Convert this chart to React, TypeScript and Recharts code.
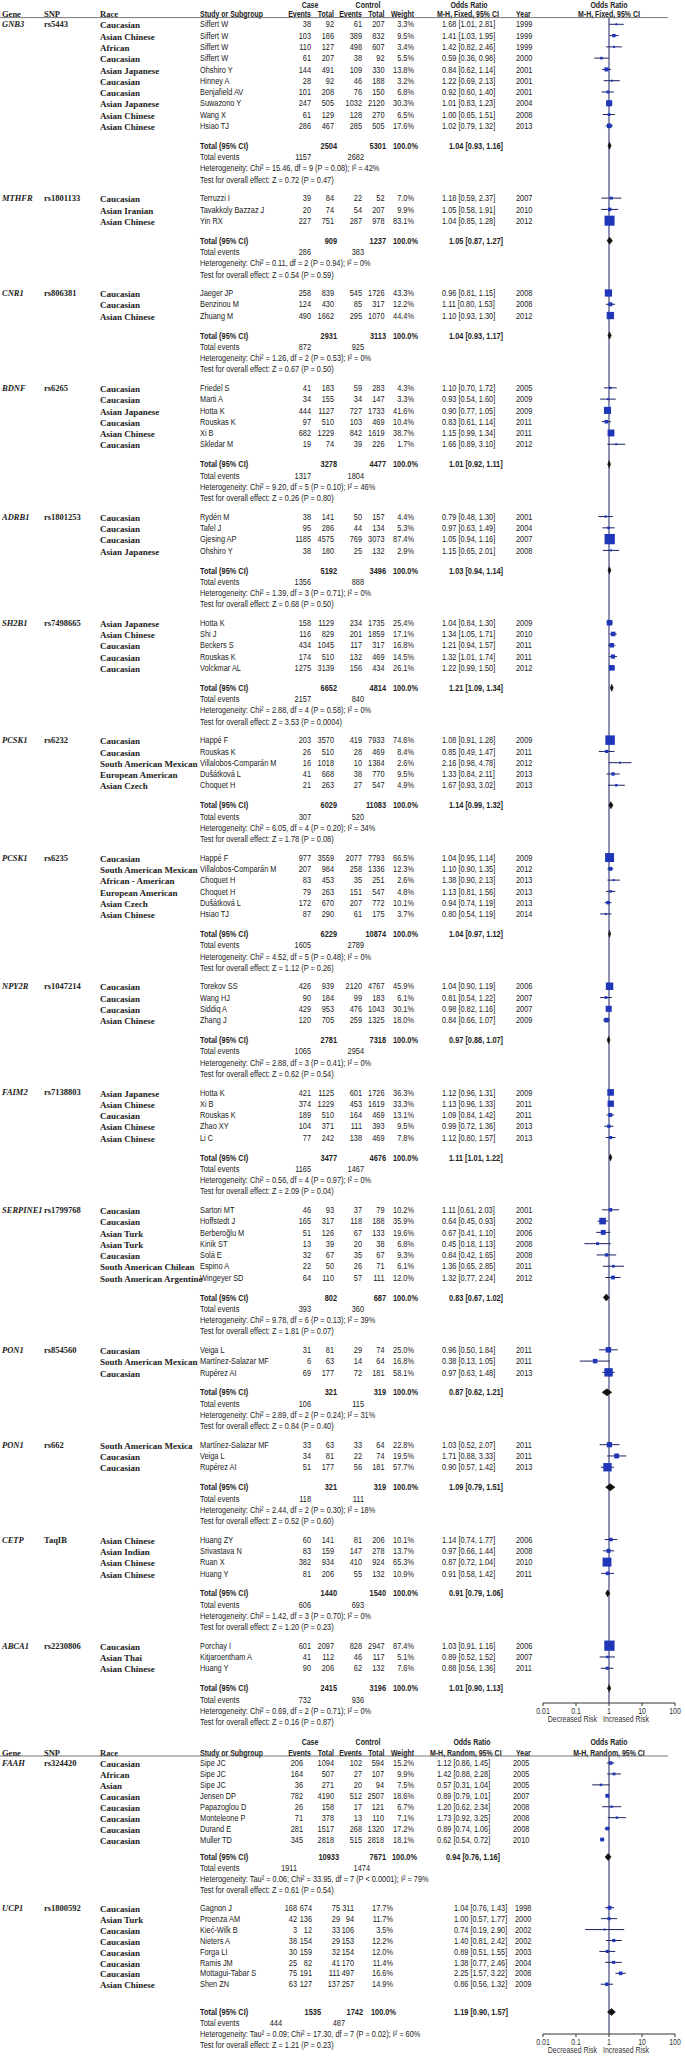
import React from "react";
import { ComposedChart, Scatter, XAxis, YAxis, ReferenceLine, ErrorBar } from "recharts";

const SANS = "'Liberation Sans', Arial, sans-serif";
const SERIF = "'Liberation Serif', 'Times New Roman', serif";
const NARROW = 0.82; // Arial Narrow look from Liberation Sans
const INK = "#222";
const NAVY = "#1b2163";
const BLUE = "#1f36b8";

// race, study, case events, case total, control events, control total, weight %, OR, CI low, CI high, year
type Study = [string, string, number, number, number, number, number, number, number, number, number];
// case total, control total, OR, CI low, CI high, case events, control events
type Total = [number, number, number, number, number, number, number];

const gnb3Studies: Study[] = [
  ["Caucasian", "Siffert W", 38, 92, 61, 207, 3.3, 1.68, 1.01, 2.81, 1999],
  ["Asian Chinese", "Siffert W", 103, 186, 389, 832, 9.5, 1.41, 1.03, 1.95, 1999],
  ["African", "Siffert W", 110, 127, 498, 607, 3.4, 1.42, 0.82, 2.46, 1999],
  ["Caucasian", "Siffert W", 61, 207, 38, 92, 5.5, 0.59, 0.36, 0.98, 2000],
  ["Asian Japanese", "Ohshiro Y", 144, 491, 109, 330, 13.8, 0.84, 0.62, 1.14, 2001],
  ["Caucasian", "Hinney A", 28, 92, 46, 188, 3.2, 1.22, 0.69, 2.13, 2001],
  ["Caucasian", "Benjafield AV", 101, 208, 76, 150, 6.8, 0.92, 0.6, 1.4, 2001],
  ["Asian Japanese", "Suwazono Y", 247, 505, 1032, 2120, 30.3, 1.01, 0.83, 1.23, 2004],
  ["Asian Chinese", "Wang X", 61, 129, 128, 270, 6.5, 1.0, 0.65, 1.51, 2008],
  ["Asian Chinese", "Hsiao TJ", 286, 467, 285, 505, 17.6, 1.02, 0.79, 1.32, 2013],
];
const gnb3Total: Total = [2504, 5301, 1.04, 0.93, 1.16, 1157, 2682];
const gnb3Stats = ["Heterogeneity: Chi² = 15.46, df = 9 (P = 0.08); I² = 42%", "Test for overall effect: Z = 0.72 (P = 0.47)"];

const mthfrStudies: Study[] = [
  ["Caucasian", "Terruzzi I", 39, 84, 22, 52, 7.0, 1.18, 0.59, 2.37, 2007],
  ["Asian Iranian", "Tavakkoly Bazzaz J", 20, 74, 54, 207, 9.9, 1.05, 0.58, 1.91, 2010],
  ["Asian Chinese", "Yin RX", 227, 751, 287, 978, 83.1, 1.04, 0.85, 1.28, 2012],
];
const mthfrTotal: Total = [909, 1237, 1.05, 0.87, 1.27, 286, 383];
const mthfrStats = ["Heterogeneity: Chi² = 0.11, df = 2 (P = 0.94); I² = 0%", "Test for overall effect: Z = 0.54 (P = 0.59)"];

const cnr1Studies: Study[] = [
  ["Caucasian", "Jaeger JP", 258, 839, 545, 1726, 43.3, 0.96, 0.81, 1.15, 2008],
  ["Caucasian", "Benzinou M", 124, 430, 85, 317, 12.2, 1.11, 0.8, 1.53, 2008],
  ["Asian Chinese", "Zhuang M", 490, 1662, 295, 1070, 44.4, 1.1, 0.93, 1.3, 2012],
];
const cnr1Total: Total = [2931, 3113, 1.04, 0.93, 1.17, 872, 925];
const cnr1Stats = ["Heterogeneity: Chi² = 1.26, df = 2 (P = 0.53); I² = 0%", "Test for overall effect: Z = 0.67 (P = 0.50)"];

const bdnfStudies: Study[] = [
  ["Caucasian", "Friedel S", 41, 183, 59, 283, 4.3, 1.1, 0.7, 1.72, 2005],
  ["Caucasian", "Marti A", 34, 155, 34, 147, 3.3, 0.93, 0.54, 1.6, 2009],
  ["Asian Japanese", "Hotta K", 444, 1127, 727, 1733, 41.6, 0.9, 0.77, 1.05, 2009],
  ["Caucasian", "Rouskas K", 97, 510, 103, 469, 10.4, 0.83, 0.61, 1.14, 2011],
  ["Asian Chinese", "Xi B", 682, 1229, 842, 1619, 38.7, 1.15, 0.99, 1.34, 2011],
  ["Caucasian", "Skledar M", 19, 74, 39, 226, 1.7, 1.66, 0.89, 3.1, 2012],
];
const bdnfTotal: Total = [3278, 4477, 1.01, 0.92, 1.11, 1317, 1804];
const bdnfStats = ["Heterogeneity: Chi² = 9.20, df = 5 (P = 0.10); I² = 46%", "Test for overall effect: Z = 0.26 (P = 0.80)"];

const adrb1Studies: Study[] = [
  ["Caucasian", "Rydén M", 38, 141, 50, 157, 4.4, 0.79, 0.48, 1.3, 2001],
  ["Caucasian", "Tafel J", 95, 286, 44, 134, 5.3, 0.97, 0.63, 1.49, 2004],
  ["Caucasian", "Gjesing AP", 1185, 4575, 769, 3073, 87.4, 1.05, 0.94, 1.16, 2007],
  ["Asian Japanese", "Ohshiro Y", 38, 180, 25, 132, 2.9, 1.15, 0.65, 2.01, 2008],
];
const adrb1Total: Total = [5192, 3496, 1.03, 0.94, 1.14, 1356, 888];
const adrb1Stats = ["Heterogeneity: Chi² = 1.39, df = 3 (P = 0.71); I² = 0%", "Test for overall effect: Z = 0.68 (P = 0.50)"];

const sh2b1Studies: Study[] = [
  ["Asian Japanese", "Hotta K", 158, 1129, 234, 1735, 25.4, 1.04, 0.84, 1.3, 2009],
  ["Asian Chinese", "Shi J", 116, 829, 201, 1859, 17.1, 1.34, 1.05, 1.71, 2010],
  ["Caucasian", "Beckers S", 434, 1045, 117, 317, 16.8, 1.21, 0.94, 1.57, 2011],
  ["Caucasian", "Rouskas K", 174, 510, 132, 469, 14.5, 1.32, 1.01, 1.74, 2011],
  ["Caucasian", "Volckmar AL", 1275, 3139, 156, 434, 26.1, 1.22, 0.99, 1.5, 2012],
];
const sh2b1Total: Total = [6652, 4814, 1.21, 1.09, 1.34, 2157, 840];
const sh2b1Stats = ["Heterogeneity: Chi² = 2.88, df = 4 (P = 0.58); I² = 0%", "Test for overall effect: Z = 3.53 (P = 0.0004)"];

const pcsk1aStudies: Study[] = [
  ["Caucasian", "Happé F", 203, 3570, 419, 7933, 74.6, 1.08, 0.91, 1.28, 2009],
  ["Caucasian", "Rouskas K", 26, 510, 28, 469, 8.4, 0.85, 0.49, 1.47, 2011],
  ["South American Mexican", "Villalobos-Comparán M", 16, 1018, 10, 1384, 2.6, 2.16, 0.98, 4.78, 2012],
  ["European American", "Dušátková L", 41, 668, 38, 770, 9.5, 1.33, 0.84, 2.11, 2013],
  ["Asian Czech", "Choquet H", 21, 263, 27, 547, 4.9, 1.67, 0.93, 3.02, 2013],
];
const pcsk1aTotal: Total = [6029, 11083, 1.14, 0.99, 1.32, 307, 520];
const pcsk1aStats = ["Heterogeneity: Chi² = 6.05, df = 4 (P = 0.20); I² = 34%", "Test for overall effect: Z = 1.78 (P = 0.08)"];

const pcsk1bStudies: Study[] = [
  ["Caucasian", "Happé F", 977, 3559, 2077, 7793, 66.5, 1.04, 0.95, 1.14, 2009],
  ["South American Mexican", "Villalobos-Comparán M", 207, 984, 258, 1336, 12.3, 1.1, 0.9, 1.35, 2012],
  ["African - American", "Choquet H", 83, 453, 35, 251, 2.6, 1.38, 0.9, 2.13, 2013],
  ["European American", "Choquet H", 79, 263, 151, 547, 4.8, 1.13, 0.81, 1.56, 2013],
  ["Asian Czech", "Dušátková L", 172, 670, 207, 772, 10.1, 0.94, 0.74, 1.19, 2013],
  ["Asian Chinese", "Hsiao TJ", 87, 290, 61, 175, 3.7, 0.8, 0.54, 1.19, 2014],
];
const pcsk1bTotal: Total = [6229, 10874, 1.04, 0.97, 1.12, 1605, 2789];
const pcsk1bStats = ["Heterogeneity: Chi² = 4.52, df = 5 (P = 0.48); I² = 0%", "Test for overall effect: Z = 1.12 (P = 0.26)"];

const npy2rStudies: Study[] = [
  ["Caucasian", "Torekov SS", 426, 939, 2120, 4767, 45.9, 1.04, 0.9, 1.19, 2006],
  ["Caucasian", "Wang HJ", 90, 184, 99, 183, 6.1, 0.81, 0.54, 1.22, 2007],
  ["Caucasian", "Siddiq A", 429, 953, 476, 1043, 30.1, 0.98, 0.82, 1.16, 2007],
  ["Asian Chinese", "Zhang J", 120, 705, 259, 1325, 18.0, 0.84, 0.66, 1.07, 2009],
];
const npy2rTotal: Total = [2781, 7318, 0.97, 0.88, 1.07, 1065, 2954];
const npy2rStats = ["Heterogeneity: Chi² = 2.88, df = 3 (P = 0.41); I² = 0%", "Test for overall effect: Z = 0.62 (P = 0.54)"];

const faim2Studies: Study[] = [
  ["Asian Japanese", "Hotta K", 421, 1125, 601, 1726, 36.3, 1.12, 0.96, 1.31, 2009],
  ["Asian Chinese", "Xi B", 374, 1229, 453, 1619, 33.3, 1.13, 0.96, 1.33, 2011],
  ["Caucasian", "Rouskas K", 189, 510, 164, 469, 13.1, 1.09, 0.84, 1.42, 2011],
  ["Asian Chinese", "Zhao XY", 104, 371, 111, 393, 9.5, 0.99, 0.72, 1.36, 2013],
  ["Asian Chinese", "Li C", 77, 242, 138, 469, 7.8, 1.12, 0.8, 1.57, 2013],
];
const faim2Total: Total = [3477, 4676, 1.11, 1.01, 1.22, 1165, 1467];
const faim2Stats = ["Heterogeneity: Chi² = 0.56, df = 4 (P = 0.97); I² = 0%", "Test for overall effect: Z = 2.09 (P = 0.04)"];

const serpine1Studies: Study[] = [
  ["Caucasian", "Sartori MT", 46, 93, 37, 79, 10.2, 1.11, 0.61, 2.03, 2001],
  ["Caucasian", "Hoffstedt J", 165, 317, 118, 188, 35.9, 0.64, 0.45, 0.93, 2002],
  ["Asian Turk", "Berberoğlu M", 51, 126, 67, 133, 19.6, 0.67, 0.41, 1.1, 2006],
  ["Asian Turk", "Kinik ST", 13, 39, 20, 38, 6.8, 0.45, 0.18, 1.13, 2008],
  ["Caucasian", "Solá E", 32, 67, 35, 67, 9.3, 0.84, 0.42, 1.65, 2008],
  ["South American Chilean", "Espino A", 22, 50, 26, 71, 6.1, 1.36, 0.65, 2.85, 2011],
  ["South American Argentine", "Wingeyer SD", 64, 110, 57, 111, 12.0, 1.32, 0.77, 2.24, 2012],
];
const serpine1Total: Total = [802, 687, 0.83, 0.67, 1.02, 393, 360];
const serpine1Stats = ["Heterogeneity: Chi² = 9.78, df = 6 (P = 0.13); I² = 39%", "Test for overall effect: Z = 1.81 (P = 0.07)"];

const pon1aStudies: Study[] = [
  ["Caucasian", "Veiga L", 31, 81, 29, 74, 25.0, 0.96, 0.5, 1.84, 2011],
  ["South American Mexican", "Martínez-Salazar MF", 6, 63, 14, 64, 16.8, 0.38, 0.13, 1.05, 2011],
  ["Caucasian", "Rupérez AI", 69, 177, 72, 181, 58.1, 0.97, 0.63, 1.48, 2013],
];
const pon1aTotal: Total = [321, 319, 0.87, 0.62, 1.21, 106, 115];
const pon1aStats = ["Heterogeneity: Chi² = 2.89, df = 2 (P = 0.24); I² = 31%", "Test for overall effect: Z = 0.84 (P = 0.40)"];

const pon1bStudies: Study[] = [
  ["South American Mexica", "Martínez-Salazar MF", 33, 63, 33, 64, 22.8, 1.03, 0.52, 2.07, 2011],
  ["Caucasian", "Veiga L", 34, 81, 22, 74, 19.5, 1.71, 0.88, 3.33, 2011],
  ["Caucasian", "Rupérez AI", 51, 177, 56, 181, 57.7, 0.9, 0.57, 1.42, 2013],
];
const pon1bTotal: Total = [321, 319, 1.09, 0.79, 1.51, 118, 111];
const pon1bStats = ["Heterogeneity: Chi² = 2.44, df = 2 (P = 0.30); I² = 18%", "Test for overall effect: Z = 0.52 (P = 0.60)"];

const cetpStudies: Study[] = [
  ["Asian Chinese", "Huang ZY", 60, 141, 81, 206, 10.1, 1.14, 0.74, 1.77, 2006],
  ["Asian Indian", "Srivastava N", 83, 159, 147, 278, 13.7, 0.97, 0.66, 1.44, 2008],
  ["Asian Chinese", "Ruan X", 382, 934, 410, 924, 65.3, 0.87, 0.72, 1.04, 2010],
  ["Asian Chinese", "Huang Y", 81, 206, 55, 132, 10.9, 0.91, 0.58, 1.42, 2011],
];
const cetpTotal: Total = [1440, 1540, 0.91, 0.79, 1.06, 606, 693];
const cetpStats = ["Heterogeneity: Chi² = 1.42, df = 3 (P = 0.70); I² = 0%", "Test for overall effect: Z = 1.20 (P = 0.23)"];

const abca1Studies: Study[] = [
  ["Caucasian", "Porchay I", 601, 2097, 828, 2947, 87.4, 1.03, 0.91, 1.16, 2006],
  ["Asian Thai", "Kitjaroentham A", 41, 112, 46, 117, 5.1, 0.89, 0.52, 1.52, 2007],
  ["Asian Chinese", "Huang Y", 90, 206, 62, 132, 7.6, 0.88, 0.56, 1.36, 2011],
];
const abca1Total: Total = [2415, 3196, 1.01, 0.9, 1.13, 732, 936];
const abca1Stats = ["Heterogeneity: Chi² = 0.69, df = 2 (P = 0.71); I² = 0%", "Test for overall effect: Z = 0.16 (P = 0.87)"];

const faahStudies: Study[] = [
  ["Caucasian", "Sipe JC", 206, 1094, 102, 594, 15.2, 1.12, 0.86, 1.45, 2005],
  ["African", "Sipe JC", 164, 507, 27, 107, 9.9, 1.42, 0.88, 2.28, 2005],
  ["Asian", "Sipe JC", 36, 271, 20, 94, 7.5, 0.57, 0.31, 1.04, 2005],
  ["Caucasian", "Jensen DP", 782, 4190, 512, 2507, 18.6, 0.89, 0.79, 1.01, 2007],
  ["Caucasian", "Papazoglou D", 26, 158, 17, 121, 6.7, 1.2, 0.62, 2.34, 2008],
  ["Caucasian", "Monteleone P", 71, 378, 13, 110, 7.1, 1.73, 0.92, 3.25, 2008],
  ["Caucasian", "Durand E", 281, 1517, 268, 1320, 17.2, 0.89, 0.74, 1.06, 2008],
  ["Caucasian", "Muller TD", 345, 2818, 515, 2818, 18.1, 0.62, 0.54, 0.72, 2010],
];
const faahTotal: Total = [10933, 7671, 0.94, 0.76, 1.16, 1911, 1474];
const faahStats = ["Heterogeneity: Tau² = 0.06; Chi² = 33.95, df = 7 (P < 0.0001); I² = 79%", "Test for overall effect: Z = 0.61 (P = 0.54)"];

const ucp1Studies: Study[] = [
  ["Caucasian", "Gagnon J", 168, 674, 75, 311, 17.7, 1.04, 0.76, 1.43, 1998],
  ["Asian Turk", "Proenza AM", 42, 136, 29, 94, 11.7, 1.0, 0.57, 1.77, 2000],
  ["Caucasian", "Kieć-Wilk B", 3, 12, 33, 106, 3.5, 0.74, 0.19, 2.9, 2002],
  ["Caucasian", "Nieters A", 38, 154, 29, 153, 12.2, 1.4, 0.81, 2.42, 2002],
  ["Caucasian", "Forga LI", 30, 159, 32, 154, 12.0, 0.89, 0.51, 1.55, 2003],
  ["Caucasian", "Ramis JM", 25, 82, 41, 170, 11.4, 1.38, 0.77, 2.46, 2004],
  ["Caucasian", "Mottagui-Tabar S", 75, 191, 111, 497, 16.6, 2.25, 1.57, 3.22, 2008],
  ["Asian Chinese", "Shen ZN", 63, 127, 137, 257, 14.9, 0.86, 0.56, 1.32, 2009],
];
const ucp1Total: Total = [1535, 1742, 1.19, 0.9, 1.57, 444, 487];
const ucp1Stats = ["Heterogeneity: Tau² = 0.09; Chi² = 17.30, df = 7 (P = 0.02); I² = 60%", "Test for overall effect: Z = 1.21 (P = 0.23)"];

const axisTicks = [0.01, 0.1, 1, 10, 100];

type Group = { gene: string; snp: string; studies: Study[]; total: Total; stats: string[] };

const fixedGroups: Group[] = [
  { gene: "GNB3", snp: "rs5443", studies: gnb3Studies, total: gnb3Total, stats: gnb3Stats },
  { gene: "MTHFR", snp: "rs1801133", studies: mthfrStudies, total: mthfrTotal, stats: mthfrStats },
  { gene: "CNR1", snp: "rs806381", studies: cnr1Studies, total: cnr1Total, stats: cnr1Stats },
  { gene: "BDNF", snp: "rs6265", studies: bdnfStudies, total: bdnfTotal, stats: bdnfStats },
  { gene: "ADRB1", snp: "rs1801253", studies: adrb1Studies, total: adrb1Total, stats: adrb1Stats },
  { gene: "SH2B1", snp: "rs7498665", studies: sh2b1Studies, total: sh2b1Total, stats: sh2b1Stats },
  { gene: "PCSK1", snp: "rs6232", studies: pcsk1aStudies, total: pcsk1aTotal, stats: pcsk1aStats },
  { gene: "PCSK1", snp: "rs6235", studies: pcsk1bStudies, total: pcsk1bTotal, stats: pcsk1bStats },
  { gene: "NPY2R", snp: "rs1047214", studies: npy2rStudies, total: npy2rTotal, stats: npy2rStats },
  { gene: "FAIM2", snp: "rs7138803", studies: faim2Studies, total: faim2Total, stats: faim2Stats },
  { gene: "SERPINE1", snp: "rs1799768", studies: serpine1Studies, total: serpine1Total, stats: serpine1Stats },
  { gene: "PON1", snp: "rs854560", studies: pon1aStudies, total: pon1aTotal, stats: pon1aStats },
  { gene: "PON1", snp: "rs662", studies: pon1bStudies, total: pon1bTotal, stats: pon1bStats },
  { gene: "CETP", snp: "TaqIB", studies: cetpStudies, total: cetpTotal, stats: cetpStats },
  { gene: "ABCA1", snp: "rs2230806", studies: abca1Studies, total: abca1Total, stats: abca1Stats },
];

const randomGroups: Group[] = [
  { gene: "FAAH", snp: "rs324420", studies: faahStudies, total: faahTotal, stats: faahStats },
  { gene: "UCP1", snp: "rs1800592", studies: ucp1Studies, total: ucp1Total, stats: ucp1Stats },
];

// column x positions (px)
const COLS_FIXED = { ev: 311, n: 334, cev: 362, cn: 384.5, w: 414, or: 442, yr: 516, tN: 337, tCn: 386, tW: 418, tOr: 449, eEv: 311, eCev: 364 };
const COLS_FAAH = { ev: 303, n: 334, cev: 362, cn: 384, w: 414, or: 437, yr: 513, tN: 339, tCn: 386, tW: 417, tOr: 446, eEv: 297, eCev: 370 };
const COLS_UCP1 = { ev: 297, n: 312, cev: 340, cn: 354, w: 393, or: 454, yr: 515, tN: 321, tCn: 363, tW: 396, tOr: 454, eEv: 282, eCev: 345 };

const PANEL_FIXED = {
  top: 0, height: 1736, y0: 24.3, rowH: 11.28, head1: 4.8, head2: 14.4, axis: 1703,
  totalGap: fixedGroups.map(() => 1.77), nextGap: 1.64, cols: fixedGroups.map(() => COLS_FIXED),
  sq: 1.1, method: "M-H, Fixed, 95% CI", orHead: 469, mhHead: 437,
};
const PANEL_RANDOM = {
  top: 1736, height: 320, y0: 27, rowH: 10.93, head1: 6.5, head2: 16.8, axis: 297.7,
  totalGap: [1.6, 2.54], nextGap: 1.64, cols: [COLS_FAAH, COLS_UCP1],
  sq: 0.9, method: "M-H, Random, 95% CI", orHead: 472, mhHead: 430,
};

const fmtOr = (a: number, b: number, c: number) => `${a.toFixed(2)} [${b.toFixed(2)}, ${c.toFixed(2)}]`;

function Txt({ x, y, children, anchor = "start", bold = false, italic = false, serif = false, size = 9, fill = INK }: any) {
  const squeeze = serif ? undefined : `translate(${x} 0) scale(${NARROW} 1) translate(${-x} 0)`;
  return (
    <text x={x} y={y} dy="0.35em" textAnchor={anchor} fontFamily={serif ? SERIF : SANS} fontSize={size}
      fontWeight={bold ? 700 : 400} fontStyle={italic ? "italic" : "normal"} fill={fill} transform={squeeze}>
      {children}
    </text>
  );
}

function StudyCell(props: any) {
  const { cx, cy, payload: r } = props;
  const s: Study = r.s;
  const c = r.cols;
  const side = Math.max(2, r.sq * Math.sqrt(s[6]));
  return (
    <g>
      {r.gene && <Txt x={2} y={cy} serif bold italic size={8.5}>{r.gene}</Txt>}
      {r.gene && <Txt x={44} y={cy} serif bold size={8.5}>{r.snp}</Txt>}
      <Txt x={100} y={cy + 1} serif bold>{s[0]}</Txt>
      <Txt x={200} y={cy}>{s[1]}</Txt>
      <Txt x={c.ev} y={cy} anchor="end">{s[2]}</Txt>
      <Txt x={c.n} y={cy} anchor="end">{s[3]}</Txt>
      <Txt x={c.cev} y={cy} anchor="end">{s[4]}</Txt>
      <Txt x={c.cn} y={cy} anchor="end">{s[5]}</Txt>
      <Txt x={c.w} y={cy} anchor="end">{s[6].toFixed(1)}%</Txt>
      <Txt x={c.or} y={cy}>{fmtOr(s[7], s[8], s[9])}</Txt>
      <Txt x={c.yr} y={cy}>{s[10]}</Txt>
      <rect x={cx - side / 2} y={cy - side / 2} width={side} height={side} fill={BLUE} />
    </g>
  );
}

function TextCell(props: any) {
  const { cy, payload: r } = props;
  const c = r.cols;
  const hs = 8.5;
  if (r.kind === "head1") {
    return (
      <g>
        <Txt x={310} y={cy} anchor="middle" bold size={hs}>Case</Txt>
        <Txt x={368} y={cy} anchor="middle" bold size={hs}>Control</Txt>
        <Txt x={r.cfg.orHead} y={cy} anchor="middle" bold size={hs}>Odds Ratio</Txt>
        <Txt x={609} y={cy} anchor="middle" bold size={hs}>Odds Ratio</Txt>
      </g>
    );
  }
  if (r.kind === "head2") {
    return (
      <g>
        <Txt x={2} y={cy} serif bold size={hs}>Gene</Txt>
        <Txt x={44} y={cy} serif bold size={hs}>SNP</Txt>
        <Txt x={100} y={cy} serif bold size={hs}>Race</Txt>
        <Txt x={200} y={cy} bold size={hs}>Study or Subgroup</Txt>
        <Txt x={311} y={cy} anchor="end" bold size={hs}>Events</Txt>
        <Txt x={334} y={cy} anchor="end" bold size={hs}>Total</Txt>
        <Txt x={362} y={cy} anchor="end" bold size={hs}>Events</Txt>
        <Txt x={384.5} y={cy} anchor="end" bold size={hs}>Total</Txt>
        <Txt x={414} y={cy} anchor="end" bold size={hs}>Weight</Txt>
        <Txt x={r.cfg.mhHead} y={cy} bold size={hs}>{r.cfg.method}</Txt>
        <Txt x={516} y={cy} bold size={hs}>Year</Txt>
        <Txt x={609} y={cy} anchor="middle" bold size={hs}>{r.cfg.method}</Txt>
        <line x1={0} x2={668} y1={cy + 3.2} y2={cy + 3.2} stroke="#555" strokeWidth={0.8} />
      </g>
    );
  }
  const t: Total = r.g.total;
  if (r.kind === "total") {
    return (
      <g>
        <Txt x={200} y={cy} bold>Total (95% CI)</Txt>
        <Txt x={c.tN} y={cy} anchor="end" bold>{t[0]}</Txt>
        <Txt x={c.tCn} y={cy} anchor="end" bold>{t[1]}</Txt>
        <Txt x={c.tW} y={cy} anchor="end" bold>100.0%</Txt>
        <Txt x={c.tOr} y={cy} bold>{fmtOr(t[2], t[3], t[4])}</Txt>
      </g>
    );
  }
  if (r.kind === "events") {
    return (
      <g>
        <Txt x={200} y={cy}>Total events</Txt>
        <Txt x={c.eEv} y={cy} anchor="end">{t[5]}</Txt>
        <Txt x={c.eCev} y={cy} anchor="end">{t[6]}</Txt>
      </g>
    );
  }
  return <Txt x={200} y={cy}>{r.kind === "het" ? r.g.stats[0] : r.g.stats[1]}</Txt>;
}

const Empty = () => <g />;

function DiamondLine(p: any) {
  const [l, m, r] = p.points;
  const d = 3.5;
  return <polygon points={`${l.x},${l.y} ${m.x},${m.y - d} ${r.x},${r.y} ${m.x},${m.y + d}`} fill="#111" stroke="#111" strokeWidth={0.6} />;
}

function buildRows(groups: Group[], cfg: any) {
  const studies: any[] = [];
  const texts: any[] = [];
  const diamonds: any[][] = [];
  let y = 0;
  groups.forEach((g, gi) => {
    const cols = cfg.cols[gi];
    g.studies.forEach((s, i) => {
      studies.push({
        x: s[7], y, err: [s[7] - s[8], s[9] - s[7]], s, cols, sq: cfg.sq,
        gene: i === 0 ? g.gene : null, snp: g.snp,
      });
      y += 1;
    });
    y = y - 1 + cfg.totalGap[gi];
    const t = g.total;
    texts.push({ x: 1, y, kind: "total", g, cols });
    diamonds.push([{ x: t[3], y }, { x: t[2], y }, { x: t[4], y }]);
    texts.push({ x: 1, y: y + 1, kind: "events", g, cols });
    texts.push({ x: 1, y: y + 2, kind: "het", g, cols });
    texts.push({ x: 1, y: y + 3, kind: "z", g, cols });
    y = y + 3 + cfg.nextGap;
  });
  return { studies, texts, diamonds };
}

function AxisTick(props: any) {
  const { x, y, payload } = props;
  const v = payload.value;
  return (
    <g>
      <Txt x={x} y={y + 4} anchor="middle" size={8.5} fill="#333">{String(v)}</Txt>
      {v === 1 && <Txt x={x - 12} y={y + 12} anchor="end" size={8.5} fill="#333">Decreased Risk</Txt>}
      {v === 1 && <Txt x={x - 6} y={y + 12} anchor="start" size={8.5} fill="#333">Increased Risk</Txt>}
    </g>
  );
}

function RiskAxis({ top }: { top: number }) {
  return (
    <div style={{ position: "absolute", left: 0, top: top - 4 }}>
      <ComposedChart width={685} height={34} margin={{ top: 2, right: 10, bottom: 0, left: 543 }}>
        <XAxis type="number" dataKey="x" scale="log" domain={[0.01, 100]} ticks={axisTicks} interval={0}
          tick={<AxisTick />} tickSize={3} tickMargin={1} height={30} stroke="#333" />
        <YAxis type="number" dataKey="y" domain={[0, 1]} hide width={0} />
        <Scatter data={[{ x: 1, y: 0.5 }]} shape={Empty} isAnimationActive={false} />
      </ComposedChart>
    </div>
  );
}

function ForestPanel({ cfg, groups }: { cfg: any; groups: Group[] }) {
  const { studies, texts, diamonds } = buildRows(groups, cfg);
  const toIdx = (px: number) => (px - cfg.y0) / cfg.rowH;
  const dMin = toIdx(0);
  const dMax = toIdx(cfg.height);
  const rows = [
    { x: 1, y: toIdx(cfg.head1), kind: "head1", cfg },
    { x: 1, y: toIdx(cfg.head2), kind: "head2", cfg },
    ...texts,
  ];
  return (
    <>
      <div style={{ position: "absolute", left: 0, top: cfg.top }}>
        <ComposedChart width={685} height={cfg.height} margin={{ top: 0, right: 10, bottom: 0, left: 543 }}>
          <XAxis type="number" dataKey="x" scale="log" domain={[0.01, 100]} hide height={0} />
          <YAxis type="number" dataKey="y" domain={[dMin, dMax]} reversed hide width={0} />
          <ReferenceLine
            segment={[{ x: 1, y: toIdx(cfg.head2 + 3.2) }, { x: 1, y: toIdx(cfg.axis) }]}
            stroke={NAVY} strokeWidth={1}
          />
          <Scatter data={rows} shape={TextCell} isAnimationActive={false} />
          {diamonds.map((d, i) => (
            <Scatter key={i} data={d} shape={Empty} line={DiamondLine} isAnimationActive={false} />
          ))}
          <Scatter data={studies} shape={StudyCell} isAnimationActive={false}>
            <ErrorBar dataKey="err" direction="x" width={0} stroke={NAVY} strokeWidth={1} />
          </Scatter>
        </ComposedChart>
      </div>
      <RiskAxis top={cfg.top + cfg.axis} />
    </>
  );
}

export default function App() {
  return (
    <div style={{ position: "absolute", left: 0, top: 0, width: 685, height: 2056, background: "#fff" }}>
      <ForestPanel cfg={PANEL_FIXED} groups={fixedGroups} />
      <ForestPanel cfg={PANEL_RANDOM} groups={randomGroups} />
    </div>
  );
}
